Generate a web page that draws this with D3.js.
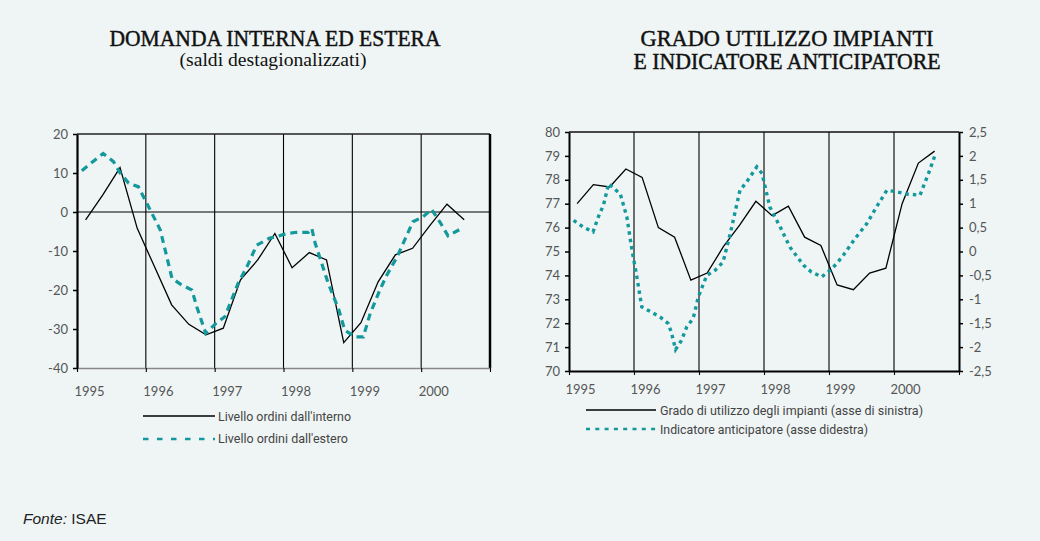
<!DOCTYPE html>
<html><head><meta charset="utf-8">
<script src="https://cdn.jsdelivr.net/npm/d3@7"></script>
<style>
html,body{margin:0;padding:0;background:#eff5f5;}
svg{display:block;}
</style></head>
<body>
<script>
// ---------- DATA ----------
const years = [1995, 1996, 1997, 1998, 1999, 2000, 2001];
const yearLabels = ["1995", "1996", "1997", "1998", "1999", "2000", ""];
// quarter mid-points (Q1 1995 ... Q3 2000)
const quarters = [1995.125, 1995.375, 1995.625, 1995.875, 1996.125, 1996.375, 1996.625, 1996.875,
  1997.125, 1997.375, 1997.625, 1997.875, 1998.125, 1998.375, 1998.625, 1998.875,
  1999.125, 1999.375, 1999.625, 1999.875, 2000.125, 2000.375, 2000.625];

// Left chart
const leftYTicks = [20, 10, 0, -10, -20, -30, -40];
const ordiniInterno = [-2.0, 4.4, 11.4, -4.2, -14.0, -23.8, -28.8, -31.5, -29.8, -17.4, -12.3, -5.5,
  -14.3, -10.4, -12.3, -33.5, -28.4, -17.9, -11.0, -9.3, -3.5, 2.0, -2.0];
const esteroDates = [1995.07, 1995.21, 1995.38, 1995.53, 1995.63, 1995.75, 1995.89, 1995.99,
  1996.21, 1996.38, 1996.52, 1996.67, 1996.74, 1996.87, 1997.01, 1997.15, 1997.34, 1997.47,
  1997.61, 1997.80, 1997.90, 1998.05, 1998.19, 1998.36, 1998.41, 1998.46, 1998.65, 1998.80,
  1998.89, 1999.04, 1999.16, 1999.26, 1999.40, 1999.50, 1999.65, 1999.74, 1999.88, 2000.03,
  2000.15, 2000.27, 2000.39, 2000.59];
const ordiniEstero = [10.6, 12.6, 15.0, 12.9, 9.9, 7.4, 6.5, 3.1,
  -4.6, -17.0, -18.7, -20.0, -24.3, -31.1, -28.7, -26.8, -18.3, -14.0,
  -8.5, -6.7, -6.3, -5.5, -5.2, -5.2, -4.2, -8.0, -18.3, -24.9,
  -30.3, -32.0, -32.0, -26.0, -20.0, -16.2, -11.5, -8.0, -2.5, -1.2,
  0.7, -2.5, -6.1, -4.2];

// Right chart
const rightLeftTicks = [80, 79, 78, 77, 76, 75, 74, 73, 72, 71, 70];
const rightRightTicks = [2.5, 2, 1.5, 1, 0.5, 0, -0.5, -1, -1.5, -2, -2.5];
const gradoUtilizzo = [77.0, 77.8, 77.7, 78.45, 78.1, 76.0, 75.6, 73.8, 74.1, 75.2, 76.1, 77.1,
  76.5, 76.9, 75.6, 75.25, 73.6, 73.4, 74.1, 74.3, 77.0, 78.7, 79.2];
const indicDates = [1995.07, 1995.22, 1995.37, 1995.45, 1995.53, 1995.61, 1995.79, 1995.89,
  1995.97, 1996.04, 1996.12, 1996.27, 1996.40, 1996.53, 1996.58, 1996.64, 1996.73, 1996.81,
  1996.91, 1996.99, 1997.12, 1997.25, 1997.37, 1997.48, 1997.63, 1997.73, 1997.89, 1997.97,
  1998.09, 1998.25, 1998.40, 1998.61, 1998.73, 1998.89, 1999.02, 1999.12, 1999.22, 1999.40,
  1999.58, 1999.73, 1999.89, 2000.04, 2000.20, 2000.40, 2000.53, 2000.63];
const indicatore = [0.65, 0.51, 0.41, 0.72, 0.97, 1.42, 1.2, 0.72,
  0.02, -0.5, -1.16, -1.27, -1.37, -1.51, -1.72, -2.05, -1.86, -1.58,
  -1.40, -0.95, -0.5, -0.39, -0.22, 0.37, 1.28, 1.45, 1.77, 1.63,
  0.93, 0.51, 0.09, -0.29, -0.43, -0.53, -0.39, -0.25, -0.08, 0.27,
  0.58, 0.93, 1.28, 1.25, 1.20, 1.18, 1.63, 2.01];

// ---------- STYLE ----------
const TEAL = "#13989c";
const LABEL = "#555";
const tickFont = "Lato, 'DejaVu Sans', sans-serif";
const legendFont = "'Liberation Sans Narrow', 'Roboto', sans-serif";
const titleFont = "'Liberation Serif', 'DejaVu Serif', serif";
const plain = d => String(d);
const itComma = d => String(d).replace(".", ",");

const svg = d3.select("body").append("svg").attr("width", 1040).attr("height", 541);
svg.append("rect").attr("width", 1040).attr("height", 541).attr("fill", "#eff5f5");

function title(x, y, txt, size, len) {
  const t = svg.append("text").attr("x", x).attr("y", y).attr("text-anchor", "middle")
    .attr("font-family", titleFont).attr("font-size", size).attr("fill", "#111")
    .attr("stroke", "#111").attr("stroke-width", 0.45).text(txt);
  if (len) t.attr("textLength", len).attr("lengthAdjust", "spacingAndGlyphs");
}

// ---------- LEFT CHART ----------
const xL = d3.scaleLinear().domain([1995, 2001]).range([77, 490]);
const yL = d3.scaleLinear().domain([-40, 20]).range([368, 134]);

title(275, 46, "DOMANDA INTERNA ED ESTERA", 23, 331);
svg.append("text").attr("x", 273).attr("y", 66).attr("text-anchor", "middle")
  .attr("font-family", titleFont).attr("font-size", 18).attr("fill", "#111")
  .attr("textLength", 187).attr("lengthAdjust", "spacingAndGlyphs")
  .text("(saldi destagionalizzati)");

const gL = svg.append("g");
gL.selectAll("line.yr").data(years.slice(1, 6)).join("line")
  .attr("x1", d => xL(d)).attr("x2", d => xL(d)).attr("y1", yL(20)).attr("y2", yL(-40))
  .attr("stroke", "#000").attr("stroke-width", 1.1);
gL.append("line").attr("x1", xL(1995)).attr("x2", xL(2001)).attr("y1", yL(0)).attr("y2", yL(0))
  .attr("stroke", "#000").attr("stroke-width", 1.2);
gL.append("line").attr("x1", xL(1995)).attr("x2", xL(2001)).attr("y1", yL(20)).attr("y2", yL(20))
  .attr("stroke", "#222").attr("stroke-width", 1.5);
gL.append("line").attr("x1", xL(2001)).attr("x2", xL(2001)).attr("y1", yL(20)).attr("y2", yL(-40))
  .attr("stroke", "#000").attr("stroke-width", 2.5);

const axBL = gL.append("g").attr("transform", `translate(0,${yL(-40)})`)
  .call(d3.axisBottom(xL).tickValues(years).tickSize(4).tickSizeOuter(0)
    .tickFormat((d, i) => yearLabels[i]));
axBL.select(".domain").attr("stroke", "#888").attr("stroke-width", 1.6);
axBL.selectAll(".tick line").attr("stroke", "#000").attr("stroke-width", 1.1);
axBL.selectAll(".tick text").attr("font-family", tickFont).attr("font-size", 13).attr("fill", LABEL)
  .attr("text-anchor", "start").attr("dx", -3).attr("y", 19);

const axLL = gL.append("g").attr("transform", `translate(${xL(1995)},0)`)
  .call(d3.axisLeft(yL).tickValues(leftYTicks).tickSize(4).tickPadding(5).tickSizeOuter(0)
    .tickFormat(plain));
axLL.select(".domain").attr("stroke", "#000").attr("stroke-width", 2.2);
axLL.selectAll(".tick line").attr("stroke", "#000").attr("stroke-width", 1.5);
axLL.selectAll(".tick text").attr("font-family", tickFont).attr("font-size", 13).attr("fill", LABEL);

const lineInt = d3.line().x((d, i) => xL(quarters[i])).y(d => yL(d));
gL.append("path").datum(ordiniInterno).attr("d", lineInt).attr("fill", "none")
  .attr("stroke", "#000").attr("stroke-width", 1.3);
const lineEst = d3.line().x((d, i) => xL(esteroDates[i])).y(d => yL(d));
gL.append("path").datum(ordiniEstero).attr("d", lineEst).attr("fill", "none")
  .attr("stroke", TEAL).attr("stroke-width", 3.2).attr("stroke-dasharray", "7,5");

gL.append("line").attr("x1", 143).attr("x2", 215).attr("y1", 416).attr("y2", 416)
  .attr("stroke", "#000").attr("stroke-width", 1.5);
gL.append("line").attr("x1", 143).attr("x2", 215).attr("y1", 439).attr("y2", 439)
  .attr("stroke", TEAL).attr("stroke-width", 2.5).attr("stroke-dasharray", "5.5,8.5");
gL.append("text").attr("x", 218).attr("y", 421).attr("font-family", legendFont).attr("font-size", 13.5)
  .attr("fill", "#444").attr("textLength", 133).attr("lengthAdjust", "spacingAndGlyphs")
  .text("Livello ordini dall'interno");
gL.append("text").attr("x", 218).attr("y", 443).attr("font-family", legendFont).attr("font-size", 13.5)
  .attr("fill", "#444").attr("textLength", 130).attr("lengthAdjust", "spacingAndGlyphs")
  .text("Livello ordini dall'estero");

// ---------- RIGHT CHART ----------
const xR = d3.scaleLinear().domain([1995, 2001]).range([569, 959]);
const yR1 = d3.scaleLinear().domain([70, 80]).range([371, 132]);
const yR2 = d3.scaleLinear().domain([-2.5, 2.5]).range([371, 132]);

title(787, 46, "GRADO UTILIZZO IMPIANTI", 23, 293);
title(787, 69, "E INDICATORE ANTICIPATORE", 23, 307);

const gR = svg.append("g");
gR.selectAll("line.yr").data(years.slice(1, 6)).join("line")
  .attr("x1", d => xR(d)).attr("x2", d => xR(d)).attr("y1", yR1(80)).attr("y2", yR1(70))
  .attr("stroke", "#000").attr("stroke-width", 1.1);
gR.append("line").attr("x1", xR(1995)).attr("x2", xR(2001)).attr("y1", yR1(80)).attr("y2", yR1(80))
  .attr("stroke", "#111").attr("stroke-width", 1.5);

const axBR = gR.append("g").attr("transform", `translate(0,${yR1(70)})`)
  .call(d3.axisBottom(xR).tickValues(years).tickSize(4).tickSizeOuter(0)
    .tickFormat((d, i) => yearLabels[i]));
axBR.select(".domain").attr("stroke", "#000").attr("stroke-width", 2);
axBR.selectAll(".tick line").attr("stroke", "#000").attr("stroke-width", 1.1);
axBR.selectAll(".tick text").attr("font-family", tickFont).attr("font-size", 13).attr("fill", LABEL)
  .attr("text-anchor", "start").attr("dx", -4).attr("y", 14);

const axRL = gR.append("g").attr("transform", `translate(${xR(1995)},0)`)
  .call(d3.axisLeft(yR1).tickValues(rightLeftTicks).tickSize(4).tickPadding(5).tickSizeOuter(0)
    .tickFormat(plain));
axRL.select(".domain").attr("stroke", "#000").attr("stroke-width", 2);
axRL.selectAll(".tick line").attr("stroke", "#000").attr("stroke-width", 1.5);
axRL.selectAll(".tick text").attr("font-family", tickFont).attr("font-size", 13).attr("fill", LABEL);

const axRR = gR.append("g").attr("transform", `translate(${xR(2001)},0)`)
  .call(d3.axisRight(yR2).tickValues(rightRightTicks).tickSize(4).tickPadding(6).tickSizeOuter(0)
    .tickFormat(itComma));
axRR.select(".domain").attr("stroke", "#000").attr("stroke-width", 2);
axRR.selectAll(".tick line").attr("stroke", "#000").attr("stroke-width", 1.5);
axRR.selectAll(".tick text").attr("font-family", tickFont).attr("font-size", 13).attr("fill", LABEL);

const lineGrado = d3.line().x((d, i) => xR(quarters[i])).y(d => yR1(d));
gR.append("path").datum(gradoUtilizzo).attr("d", lineGrado).attr("fill", "none")
  .attr("stroke", "#000").attr("stroke-width", 1.3);
const lineInd = d3.line().x((d, i) => xR(indicDates[i])).y(d => yR2(d));
gR.append("path").datum(indicatore).attr("d", lineInd).attr("fill", "none")
  .attr("stroke", TEAL).attr("stroke-width", 3.4).attr("stroke-dasharray", "3.5,4");

gR.append("line").attr("x1", 586).attr("x2", 656).attr("y1", 410).attr("y2", 410)
  .attr("stroke", "#000").attr("stroke-width", 1.5);
gR.append("line").attr("x1", 586).attr("x2", 656).attr("y1", 429).attr("y2", 429)
  .attr("stroke", TEAL).attr("stroke-width", 2.5).attr("stroke-dasharray", "4,5.3");
gR.append("text").attr("x", 660).attr("y", 415).attr("font-family", legendFont).attr("font-size", 13.5)
  .attr("fill", "#444").attr("textLength", 263).attr("lengthAdjust", "spacingAndGlyphs")
  .text("Grado di utilizzo degli impianti (asse di sinistra)");
gR.append("text").attr("x", 660).attr("y", 434).attr("font-family", legendFont).attr("font-size", 13.5)
  .attr("fill", "#444").attr("textLength", 208).attr("lengthAdjust", "spacingAndGlyphs")
  .text("Indicatore anticipatore (asse didestra)");

// ---------- FOOTER ----------
const ft = svg.append("text").attr("x", 23).attr("y", 524).attr("font-family", "'Liberation Sans', Arial, sans-serif")
  .attr("font-size", 15.5).attr("fill", "#222");
ft.append("tspan").attr("font-style", "italic").text("Fonte:");
ft.append("tspan").text(" ISAE");
</script>
</body></html>
